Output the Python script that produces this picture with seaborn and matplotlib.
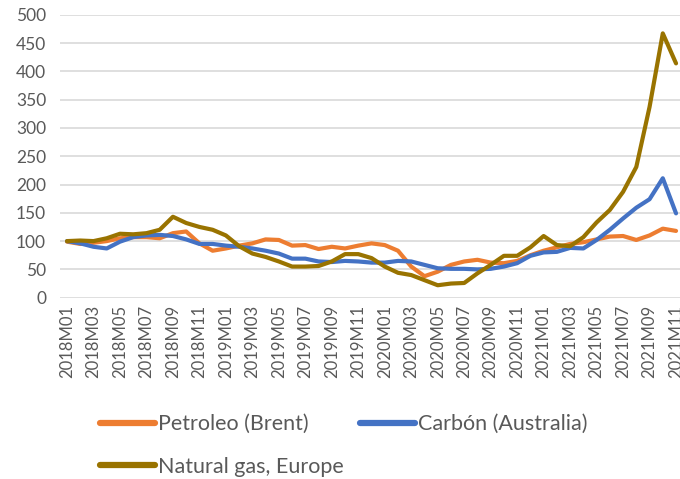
import numpy as np
import pandas as pd
import matplotlib
matplotlib.use("Agg")
import matplotlib.pyplot as plt
import seaborn as sns

# monthly index values, 2018M01 .. 2021M11 (2018M01 = 100)
months = [f"{y}M{m:02d}" for y in range(2018, 2022) for m in range(1, 13)][:47]

petroleo = [99, 95, 97, 100, 105, 107, 107, 105, 114, 117, 96, 83, 87, 92, 96, 103,
            102, 92, 93, 86, 90, 87, 92, 96, 93, 83, 55, 38, 46, 58, 64, 67,
            62, 61, 65, 75, 83, 89, 95, 98, 103, 108, 109, 102, 110, 122, 118]
carbon = [100, 96, 90, 87, 99, 107, 110, 111, 109, 103, 95, 95, 92, 90, 87, 83,
          78, 69, 69, 64, 63, 65, 64, 62, 62, 65, 64, 58, 52, 51, 51, 50,
          51, 55, 61, 74, 80, 81, 88, 87, 102, 120, 140, 159, 174, 211, 149]
gas = [100, 101, 100, 105, 113, 112, 114, 120, 143, 132, 125, 120, 110, 91, 78, 72,
       64, 55, 55, 56, 64, 77, 77, 70, 55, 44, 40, 31, 22, 25, 26, 43,
       58, 74, 74, 89, 109, 93, 91, 107, 133, 155, 187, 231, 337, 467, 414]

series_names = ["Petroleo (Brent)", "Carbón (Australia)", "Natural gas, Europe"]
colors = ["#ED7D31", "#4472C4", "#997300"]

df = pd.DataFrame({"idx": list(range(len(months))) * 3,
                   "value": petroleo + carbon + gas,
                   "serie": sum([[n] * len(months) for n in series_names], [])})

sns.set_style("white")
plt.rcParams["font.family"] = ["Lato", "DejaVu Sans"]

fig = plt.figure(figsize=(6.8, 4.79), dpi=100)
ax = fig.add_axes([60 / 680, 1 - 297.7 / 479, 620 / 680, 283 / 479])

sns.lineplot(data=df, x="idx", y="value", hue="serie", palette=colors,
             linewidth=3, ax=ax, legend=True)

ax.set_xlim(-0.53, 46.3)
ax.set_ylim(0, 500)
ax.set_yticks(range(0, 501, 50))
ax.set_xticks(range(0, len(months), 2))
ax.set_xticklabels(months[::2], rotation=90)
ax.tick_params(axis="both", colors="#595959", length=0)
ax.tick_params(axis="y", labelsize=12.5, pad=10)
ax.tick_params(axis="x", labelsize=12, pad=5)
ax.grid(axis="y", color="#d9d9d9", linewidth=1.2)
ax.set_axisbelow(True)
for s in ax.spines.values():
    s.set_visible(False)
ax.set_xlabel("")
ax.set_ylabel("")

handles, labels = ax.get_legend_handles_labels()
ax.get_legend().remove()
# reorder so the legend reads row by row
order = [0, 2, 1]
leg = fig.legend([handles[i] for i in order], [labels[i] for i in order],
                 loc="upper left", bbox_to_anchor=(0.134, 0.153),
                 ncol=2, frameon=False, fontsize=15.5, handlelength=2.55,
                 handletextpad=0.15, columnspacing=0.75, labelspacing=1.05,
                 borderaxespad=0)
for t in leg.get_texts():
    t.set_color("#595959")
for h in leg.legend_handles:
    h.set_linewidth(4.5)

fig.savefig("out.png", dpi=100)
